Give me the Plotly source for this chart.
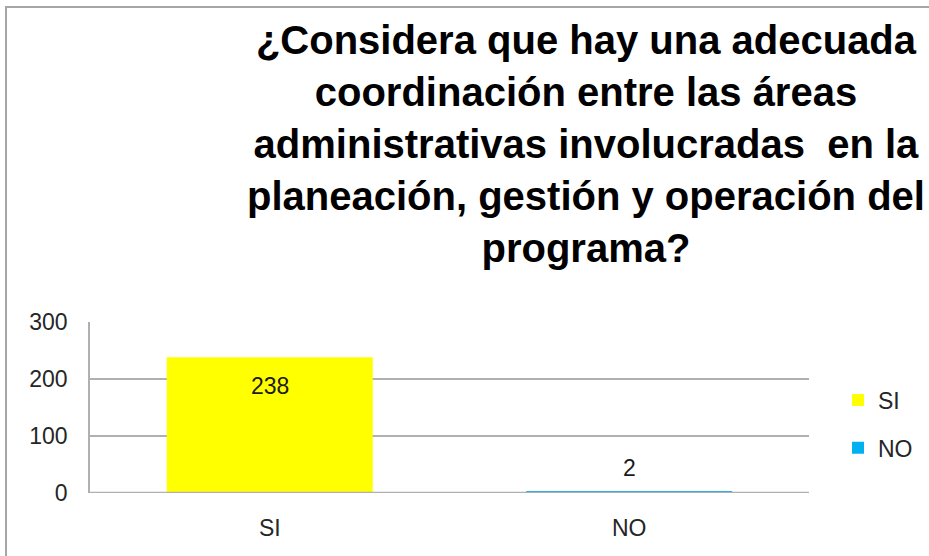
import plotly.graph_objects as go

categories = ["SI", "NO"]
values = [238, 2]
colors = ["#FFFF00", "#00B0F0"]
y_ticks = [0, 100, 200, 300]
title_lines = [
    "¿Considera que hay una adecuada",
    "coordinación entre las áreas",
    "administrativas involucradas  en la",
    "planeación, gestión y operación del",
    "programa?",
]

FONT = "Liberation Sans, Arial, sans-serif"

fig = go.Figure()
for i, (cat, val, col) in enumerate(zip(categories, values, colors)):
    fig.add_trace(go.Bar(
        x=[cat], y=[val], name=cat, marker=dict(color=col, line=dict(width=0)),
        legendgroup=cat, showlegend=True,
    ))

# data labels
label_shift = [-29, 24]
for cat, val, sh in zip(categories, values, label_shift):
    fig.add_annotation(x=cat, y=val, text=str(val), showarrow=False,
                       yanchor="middle", yshift=sh,
                       font=dict(family=FONT, size=23, color="#1a1a1a"))

# chart title (multi-line)
fig.add_annotation(xref="paper", yref="paper", x=(586 - 90) / 719, y=(493 - 16) / 171,
                   xanchor="center", yanchor="top", showarrow=False,
                   text="<b>" + "<br>".join(title_lines) + "</b>",
                   font=dict(family=FONT, size=40, color="#000000"))

# outer chart border
fig.add_shape(type="rect", xref="paper", yref="paper",
              x0=-0.1168, x1=1.2, y0=-0.5, y1=2.842,
              line=dict(color="#A6A6A6", width=2), fillcolor="rgba(0,0,0,0)")

# category axis line drawn over the bars
fig.add_shape(type="line", xref="paper", yref="y", x0=0, x1=1, y0=0, y1=0,
              layer="above", line=dict(color="#B0B0B0", width=2.4))

fig.update_layout(
    width=929, height=556,
    margin=dict(l=90, r=120, t=322, b=63),
    paper_bgcolor="white", plot_bgcolor="white",
    barmode="overlay", bargap=0.427,
    font=dict(family=FONT, size=23, color="#262626"),
    legend=dict(xref="container", yref="container",
                x=838 / 929, xanchor="left", y=1 - 424 / 556, yanchor="middle",
                tracegroupgap=15, font=dict(size=23, color="#262626"),
                bgcolor="rgba(0,0,0,0)"),
    xaxis=dict(showgrid=False, showline=False,
               ticks="", ticklabelstandoff=19, tickfont=dict(size=23)),
    yaxis=dict(range=[0, 300], tickvals=y_ticks, showgrid=True,
               gridcolor="#B0B0B0", gridwidth=1.5, showline=True,
               linecolor="#B0B0B0", linewidth=1.5, zeroline=False,
               ticks="", ticklabelstandoff=16, tickfont=dict(size=23)),
)

fig.write_html("out.html", config={"displayModeBar": False},
               post_script="document.body.style.margin='0';")
